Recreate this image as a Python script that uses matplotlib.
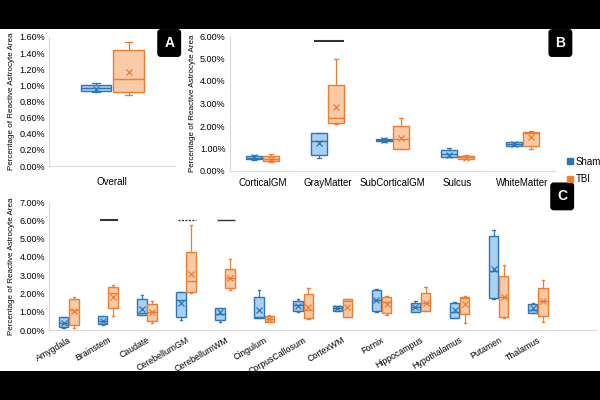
import numpy as np
import matplotlib.pyplot as plt
from matplotlib.patches import Rectangle
from matplotlib.ticker import FuncFormatter, MultipleLocator

plt.rcParams['font.family'] = ['Liberation Sans', 'DejaVu Sans']

SHAM_EDGE = '#2E75B6'
SHAM_FILL = '#A9D1F2'
TBI_EDGE = '#ED7D31'
TBI_FILL = '#F8CAA6'

# stats per group: whislo, q1, med, q3, whishi, mean
overall_cats = ['Overall']
overall_sham = [[0.92, 0.93, 0.97, 1.00, 1.03, 0.96]]
overall_tbi = [[0.88, 0.92, 1.08, 1.44, 1.54, 1.16]]

region_cats = ['CorticalGM', 'GrayMatter', 'SubCorticalGM', 'Sulcus', 'WhiteMatter']
region_sham = [
    [0.50, 0.55, 0.60, 0.68, 0.72, 0.62],
    [0.60, 0.70, 1.35, 1.70, 1.70, 1.25],
    [1.30, 1.32, 1.38, 1.43, 1.47, 1.38],
    [0.62, 0.62, 0.75, 0.92, 1.02, 0.72],
    [1.10, 1.10, 1.20, 1.28, 1.30, 1.18],
]
region_tbi = [
    [0.38, 0.45, 0.55, 0.68, 0.75, 0.55],
    [2.10, 2.15, 2.35, 3.82, 5.00, 2.85],
    [1.00, 1.00, 1.42, 2.00, 2.35, 1.48],
    [0.52, 0.52, 0.62, 0.68, 0.72, 0.58],
    [1.00, 1.12, 1.70, 1.75, 1.78, 1.50],
]

struct_cats = ['Amygdala', 'Brainstem', 'Caudate', 'CerebellumGM', 'CerebellumWM',
               'Cingulum', 'CorpusCallosum', 'CortexWM', 'Fornix', 'Hippocampus',
               'Hypothalamus', 'Putamen', 'Thalamus']
struct_sham = [
    [0.12, 0.15, 0.40, 0.70, 0.70, 0.37],
    [0.30, 0.31, 0.50, 0.77, 0.77, 0.50],
    [0.80, 0.82, 0.95, 1.72, 1.92, 1.17],
    [0.55, 0.73, 1.65, 2.10, 2.10, 1.50],
    [0.42, 0.55, 0.90, 1.22, 1.22, 0.97],
    [0.68, 0.68, 0.73, 1.79, 2.19, 1.10],
    [1.00, 1.06, 1.35, 1.59, 1.68, 1.32],
    [1.04, 1.04, 1.20, 1.33, 1.33, 1.20],
    [1.00, 1.04, 1.65, 2.19, 2.23, 1.65],
    [0.97, 1.00, 1.28, 1.50, 1.60, 1.28],
    [0.66, 0.68, 0.98, 1.46, 1.55, 1.10],
    [1.68, 1.74, 3.20, 5.16, 5.45, 3.35],
    [0.91, 0.91, 1.10, 1.41, 1.45, 1.19],
]
struct_tbi = [
    [0.13, 0.27, 1.10, 1.68, 1.83, 1.04],
    [0.77, 1.19, 2.05, 2.34, 2.47, 1.83],
    [0.40, 0.51, 0.98, 1.43, 1.60, 1.00],
    [2.05, 2.08, 2.69, 4.24, 5.76, 3.07],
    [2.19, 2.29, 2.85, 3.33, 3.88, 2.83],
    [0.42, 0.46, 0.62, 0.77, 0.80, 0.62],
    [0.60, 0.64, 1.10, 1.96, 2.29, 1.28],
    [0.73, 0.73, 1.60, 1.68, 1.68, 1.28],
    [0.82, 0.95, 1.52, 1.79, 1.86, 1.41],
    [1.06, 1.06, 1.50, 2.05, 2.34, 1.46],
    [0.40, 0.86, 1.75, 1.79, 1.86, 1.43],
    [0.64, 0.69, 1.79, 2.98, 3.53, 1.83],
    [0.46, 0.79, 1.60, 2.29, 2.74, 1.59],
]


def to_stats(rows):
    out = []
    for lo, q1, med, q3, hi, mean in rows:
        out.append(dict(whislo=lo, q1=q1, med=med, q3=q3, whishi=hi, mean=mean, fliers=[]))
    return out


def draw_group(ax, rows, pos, edge, fill, width):
    ax.bxp(to_stats(rows), positions=pos, widths=width, patch_artist=True,
           showmeans=True, showfliers=False,
           boxprops=dict(facecolor=fill, edgecolor=edge, linewidth=1.0),
           medianprops=dict(color=edge, linewidth=1.0),
           whiskerprops=dict(color=edge, linewidth=0.9),
           capprops=dict(color=edge, linewidth=0.9),
           capwidths=width * 0.25,
           meanprops=dict(marker='x', markeredgecolor=edge, markersize=4, markeredgewidth=0.9))


def panel(ax, cats, sham, tbi, ymax, step, xmax=None):
    x = np.arange(len(cats))
    w = 0.24
    draw_group(ax, sham, x - 0.13, SHAM_EDGE, SHAM_FILL, w)
    draw_group(ax, tbi, x + 0.13, TBI_EDGE, TBI_FILL, w)
    ax.set_xticks(x)
    ax.set_xticklabels(cats)
    ax.set_xlim(-0.5, (xmax if xmax is not None else len(cats) - 0.5))
    ax.set_ylim(0, ymax)
    ax.yaxis.set_major_locator(MultipleLocator(step))
    ax.yaxis.set_major_formatter(FuncFormatter(lambda v, p: '{:.2f}%'.format(v)))
    for s in ['top', 'right']:
        ax.spines[s].set_visible(False)
    for s in ['left', 'bottom']:
        ax.spines[s].set_color('#D9D9D9')
        ax.spines[s].set_linewidth(0.8)
    ax.tick_params(length=0, labelsize=6.5, pad=3)
    ax.set_ylabel('Percentage of Reactive Astrocyte Area', fontsize=5.8, labelpad=3)


fig = plt.figure(figsize=(6, 4), dpi=100, facecolor='black')
fig.add_artist(Rectangle((0, 29 / 400), 1, 342 / 400, transform=fig.transFigure,
                         facecolor='white', edgecolor='none', zorder=0))

axA = fig.add_axes([0.082, 0.585, 0.21, 0.3225])
panel(axA, overall_cats, overall_sham, overall_tbi, 1.6, 0.2)
axA.tick_params(axis='x', labelsize=7, pad=8)

axB = fig.add_axes([0.383, 0.5725, 0.542, 0.3375])
panel(axB, region_cats, region_sham, region_tbi, 6.0, 1.0)
axB.tick_params(axis='x', labelsize=7, pad=5)
axB.hlines(5.8, 1 - 0.2, 1 + 0.25, color='#333333', linewidth=1.5)

axC = fig.add_axes([0.082, 0.175, 0.912, 0.32])
panel(axC, struct_cats, struct_sham, struct_tbi, 7.0, 1.0, xmax=13.5)
for lab in axC.get_xticklabels():
    lab.set_rotation(30)
    lab.set_ha('right')
    lab.set_rotation_mode('anchor')
axC.tick_params(axis='x', labelsize=6.3, pad=4)
axC.hlines(6.0, 1 - 0.2, 1 + 0.25, color='#333333', linewidth=1.5)
axC.hlines(6.0, 3 - 0.2, 3 + 0.25, color='#333333', linewidth=1.0, linestyles=(0, (1.5, 1)))
axC.hlines(6.0, 4 - 0.2, 4 + 0.25, color='#333333', linewidth=1.0)

# legend
fig.legend(handles=[Rectangle((0, 0), 1, 1, color=SHAM_EDGE), Rectangle((0, 0), 1, 1, color=TBI_EDGE)],
           labels=['Sham', 'TBI'], loc='center left', bbox_to_anchor=(0.945, 0.574),
           frameon=False, fontsize=7, handlelength=0.6, handleheight=0.6, handletextpad=0.3,
           labelspacing=0.75, borderaxespad=0, borderpad=0)

for lbl, (fx, fy) in zip(['A', 'B', 'C'], [(0.282, 0.8925), (0.934, 0.8925), (0.937, 0.509)]):
    fig.text(fx, fy, lbl, ha='center', va='center', color='white', fontsize=10, fontweight='bold',
             bbox=dict(boxstyle='round,pad=0.45,rounding_size=0.2', facecolor='black', edgecolor='black'))

fig.savefig('out.png', dpi=100, facecolor=fig.get_facecolor())
